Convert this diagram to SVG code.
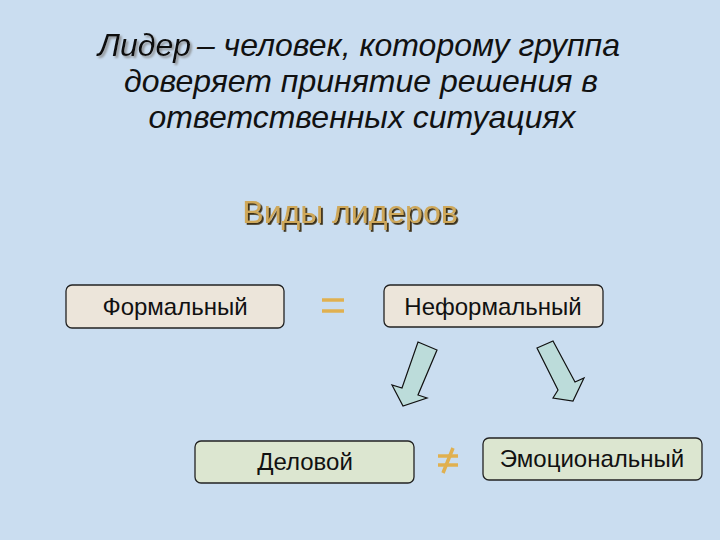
<svg xmlns="http://www.w3.org/2000/svg" width="720" height="540" viewBox="0 0 720 540">
<defs>
<filter id="grayShadow" x="-10%" y="-20%" width="130%" height="150%">
<feDropShadow dx="2" dy="2" stdDeviation="0.8" flood-color="#808080" flood-opacity="0.8"/>
</filter>
<filter id="darkShadow" x="-10%" y="-20%" width="130%" height="150%">
<feDropShadow dx="1.8" dy="1.8" stdDeviation="0.4" flood-color="#3a2e18" flood-opacity="1"/>
</filter>
</defs>
<style>
.title{font-family:"Liberation Sans",Arial,sans-serif;font-style:italic;font-size:32px;fill:#111}
.mid{text-anchor:middle}
.head{font-family:"Liberation Sans",Arial,sans-serif;font-size:32px;text-anchor:middle;fill:#CFA85A}
.box{stroke:#222;stroke-width:1.3}
.beige{fill:#ECE5DA}
.green{fill:#DCE6D0}
.lbl{font-family:"Liberation Sans",Arial,sans-serif;font-size:24px;fill:#111;text-anchor:middle}
.arrow{fill:#BCDCDA;stroke:#111;stroke-width:1.2;stroke-linejoin:miter}
.sign{stroke:#E0B050;stroke-width:3.5}
</style>
<rect width="720" height="540" fill="#CADDF0"/>
<g id="title">
<text class="title" x="98" y="56" filter="url(#grayShadow)">Лидер</text>
<text class="title" x="620" y="56" text-anchor="end">– человек, которому группа</text>
<text class="title mid" x="361" y="92">доверяет принятие решения в</text>
<text class="title mid" x="362" y="128">ответственных ситуациях</text>
</g>
<g id="heading">
<text class="head" x="350" y="223" filter="url(#darkShadow)">Виды лидеров</text>
</g>
<g id="formal">
<rect class="box beige" x="66" y="285" width="218" height="43" rx="6"/>
<text class="lbl" x="175" y="315">Формальный</text>
</g>
<g id="informal">
<rect class="box beige" x="384" y="285" width="219" height="42" rx="6"/>
<text class="lbl" x="493" y="315">Неформальный</text>
</g>
<g id="business">
<rect class="box green" x="195" y="441" width="219" height="42" rx="6"/>
<text class="lbl" x="305" y="470">Деловой</text>
</g>
<g id="emotional">
<rect class="box green" x="483" y="438" width="219" height="42" rx="6"/>
<text class="lbl" x="592" y="467">Эмоциональный</text>
</g>
<g id="signs">
<line class="sign" x1="322" y1="300" x2="344" y2="300"/>
<line class="sign" x1="322" y1="311" x2="344" y2="311"/>
<line class="sign" x1="438" y1="456" x2="458" y2="456"/>
<line class="sign" x1="438" y1="465" x2="458" y2="465"/>
<line class="sign" x1="443" y1="473" x2="453" y2="448"/>
</g>
<g id="connectors">
<polygon class="arrow" points="418,342 437,350 418,395 427,398 403,406 392,385 402,388"/>
<polygon class="arrow" points="537,348 553,341 575,382 584,378 573,401 553,398 558,390"/>
</g>
</svg>
